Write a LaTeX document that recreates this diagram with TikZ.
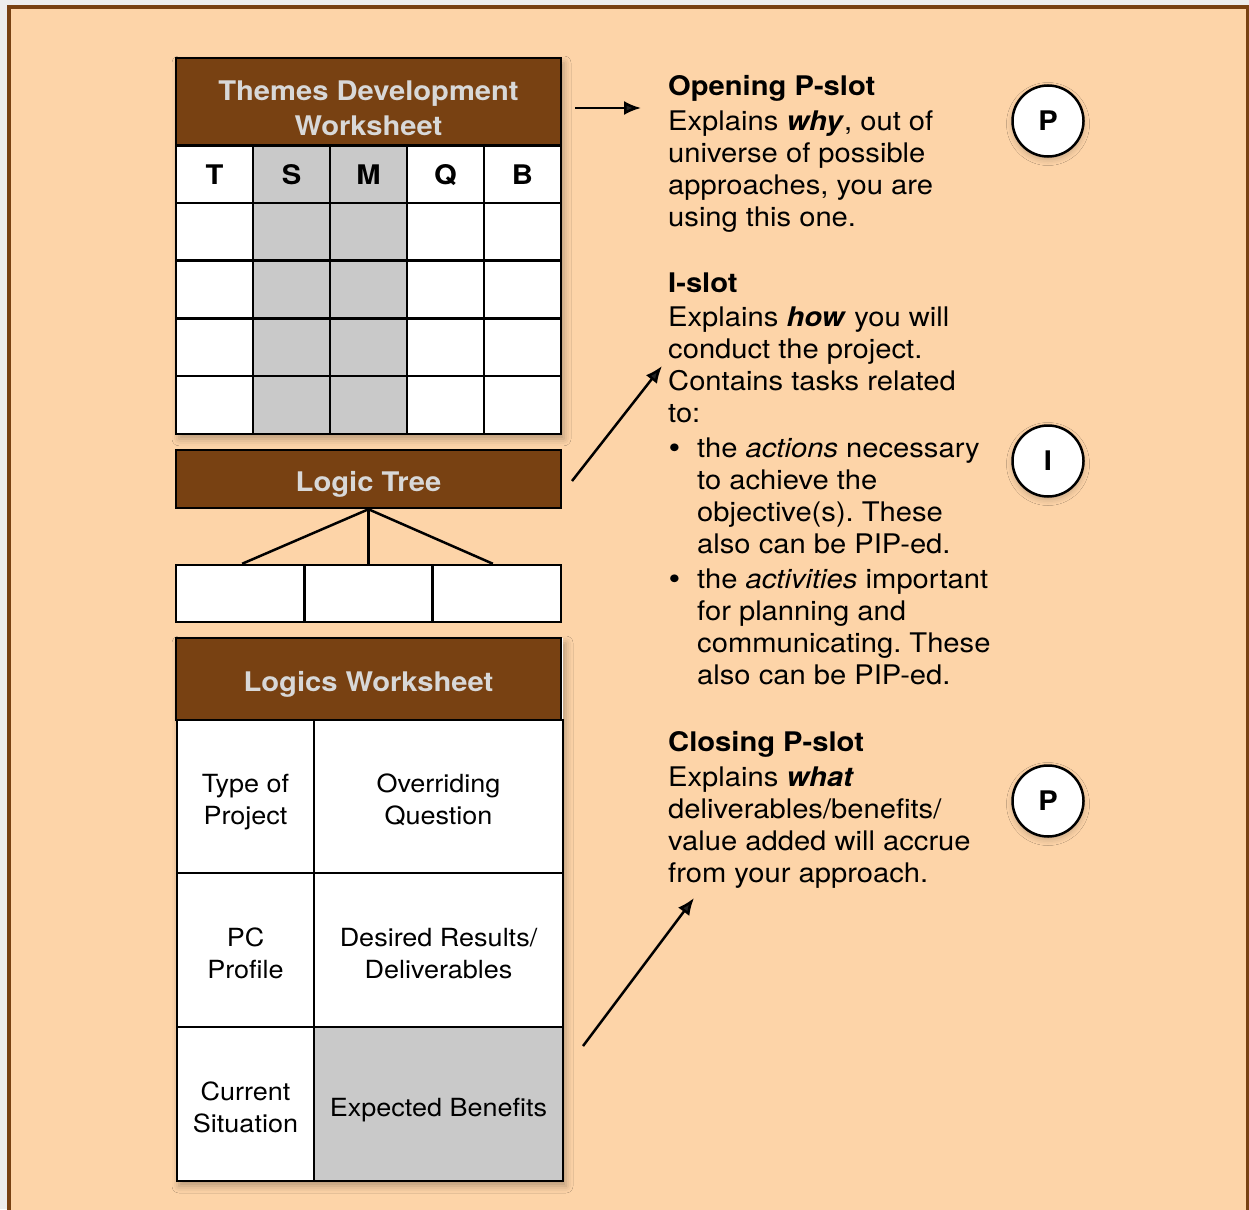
\documentclass[tikz,border=0pt]{standalone}
\usepackage{fontspec}
\setmainfont{TeX Gyre Heros}[FakeStretch=1.08]
\usepackage{tikz}
\usetikzlibrary{
arrows.meta,
positioning,
calc,
shadows.blur
}
\definecolor{slotbrown}{HTML}{784112}
\definecolor{slotpeach}{HTML}{FDD4A8}
\definecolor{cellgray}{HTML}{C9C9C9}
\definecolor{headgray}{HTML}{D8D8D8}
\newcommand{\slotbullet}{\makebox[29pt][l]{\hspace{0.5pt}\raisebox{-1pt}{\fontsize{31}{32}\selectfont\textbullet}}}

\begin{document}
\frenchspacing
\begin{tikzpicture}[x=1pt, y=-1pt, >={Latex[length=17pt, width=14pt]},
  body/.style={font=\fontsize{27}{32}\selectfont, anchor=north west, inner sep=0pt, align=left},
  header/.style={draw=black, line width=2.5pt, fill=slotbrown, inner sep=0pt, minimum width=385pt},
  headtext/.style={text=headgray, inner sep=0pt, font=\fontsize{27}{35}\selectfont\bfseries, align=center},
  cell/.style={draw=black, line width=2.5pt, fill=white, inner sep=0pt},
  celltext/.style={inner sep=0pt, font=\fontsize{25}{32}\selectfont, align=center},
  slot/.style={circle, draw=black, line width=2.5pt, fill=white, minimum size=71pt, inner sep=0pt,
    font=\fontsize{27}{32}\selectfont\bfseries,
    blur shadow={shadow xshift=0pt, shadow yshift=-3pt, shadow blur radius=6pt, shadow opacity=22}},
  link/.style={->, line width=2.5pt},
  softshadow/.style={blur shadow={shadow xshift=3pt, shadow yshift=-5pt, shadow blur radius=7pt, shadow opacity=28}}
]

% Canvas and frame
\path[use as bounding box, clip] (0,0) rectangle (1249,1209);
\fill[black!7] (0,0) rectangle (1249,1209);
\draw[slotbrown, line width=4pt, fill=slotpeach] (9,7) rectangle (1247.5,1240);

% Themes Development Worksheet
\fill[white, softshadow] (176,58) rectangle (561,433.75);
\node[header, minimum height=87pt] (themes) at (368.5,101.5) {};
\node[headtext] (themes-title) at ($(themes.center)+(0,7)$) {Themes Development\\Worksheet};
\foreach \l/\f [count=\i] in {T/white, S/cellgray, M/cellgray, Q/white, B/white} {
  \node[cell, fill=\f, minimum width=77pt, minimum height=57.75pt,
    font=\fontsize{27}{32}\selectfont\bfseries] (tdw-\i-0) at ({176+77*(\i-0.5)}, 175) {\l};
  \foreach \r in {1,...,4}
    \node[cell, fill=\f, minimum width=77pt, minimum height=57.75pt]
      (tdw-\i-\r) at ({176+77*(\i-0.5)}, {145+57.75*(\r+0.5)}) {};
}

% Logic Tree
\node[header, minimum height=58pt] (tree) at (368.5,479) {};
\node[headtext] (tree-title) at ($(tree.center)+(0,5)$) {Logic Tree};
\node[cell, minimum width=128.33pt, minimum height=57pt] (leaf1) at (240.17,593.5) {};
\node[cell, minimum width=128.33pt, minimum height=57pt] (leaf2) at (368.5,593.5) {};
\node[cell, minimum width=128.33pt, minimum height=57pt] (leaf3) at (496.83,593.5) {};
\draw[line width=2.5pt] (tree.south) -- ($(leaf1.north)+(2,0)$);
\draw[line width=2.5pt] (tree.south) -- (leaf2.north);
\draw[line width=2.5pt] (tree.south) -- ($(leaf3.north)+(-4,0)$);

% Logics Worksheet
\fill[white, softshadow] (176,638) rectangle (563,1181);
\node[header, minimum height=82pt] (logics) at (368.5,679) {};
\node[headtext] (logics-title) at ($(logics.center)+(0,5)$) {Logics Worksheet};
\node[cell, minimum width=137pt, minimum height=153pt] (type) at (245.5,796.5) {};
\node[cell, minimum width=249pt, minimum height=153pt] (question) at (438.5,796.5) {};
\node[cell, minimum width=137pt, minimum height=154pt] (profile) at (245.5,950) {};
\node[cell, minimum width=249pt, minimum height=154pt] (results) at (438.5,950) {};
\node[cell, minimum width=137pt, minimum height=154pt] (situation) at (245.5,1104) {};
\node[cell, fill=cellgray, minimum width=249pt, minimum height=154pt] (benefits) at (438.5,1104) {};
\node[celltext] (type-text) at ($(type.center)+(0,6)$) {Type of\\Project};
\node[celltext] (question-text) at ($(question.center)+(0,3)$) {Overriding\\Question};
\node[celltext] (profile-text) at ($(profile.center)+(0,3)$) {PC\\Profile};
\node[celltext] (results-text) at ($(results.center)+(0,4)$) {Desired Results/\\Deliverables};
\node[celltext] (situation-text) at ($(situation.center)+(0,3)$) {Current\\Situation};
\node[celltext] (benefits-text) at ($(benefits.center)+(0,6)$) {Expected Benefits};

% Slot texts
\node[body] (opening) at (668,75) {\textbf{Opening P-slot}\\[3pt]
  Explains \textbf{\textit{why}}, out of\\
  universe of possible\\
  approaches, you are\\
  using this one.};
\node[body] (islot) at (668,273) {\textbf{I-slot}\\[2pt]
  Explains \textbf{\textit{how}} you will\\
  conduct the project.\\
  Contains tasks related\\
  to:\\[3pt]
  \slotbullet the \textit{actions} necessary\\
  \hspace*{29pt}to achieve the\\
  \hspace*{29pt}objective(s). These\\
  \hspace*{29pt}also can be PIP-ed.\\[3pt]
  \slotbullet the \textit{activities} important\\
  \hspace*{29pt}for planning and\\
  \hspace*{29pt}communicating. These\\
  \hspace*{29pt}also can be PIP-ed.};
\node[body] (closing) at (668,731) {\textbf{Closing P-slot}\\[3pt]
  Explains \textbf{\textit{what}}\\
  deliverables/benefits/\\
  value added will accrue\\
  from your approach.};

% Slot markers
\node[slot] (popen) at (1048,121) {P};
\node[slot] (pmid) at (1048,461) {I};
\node[slot] (pclose) at (1048,801) {P};

% Arrows
\coordinate (themes-out) at (575,108);
\coordinate (opening-in) at (641,108);
\coordinate (tree-out) at (572,481);
\coordinate (islot-in) at (662,366);
\coordinate (logics-out) at (583,1046);
\coordinate (closing-in) at (694,898);
\draw[link] (themes-out) -- (opening-in);
\draw[link] (tree-out) -- (islot-in);
\draw[link] (logics-out) -- (closing-in);

\end{tikzpicture}
\end{document}
